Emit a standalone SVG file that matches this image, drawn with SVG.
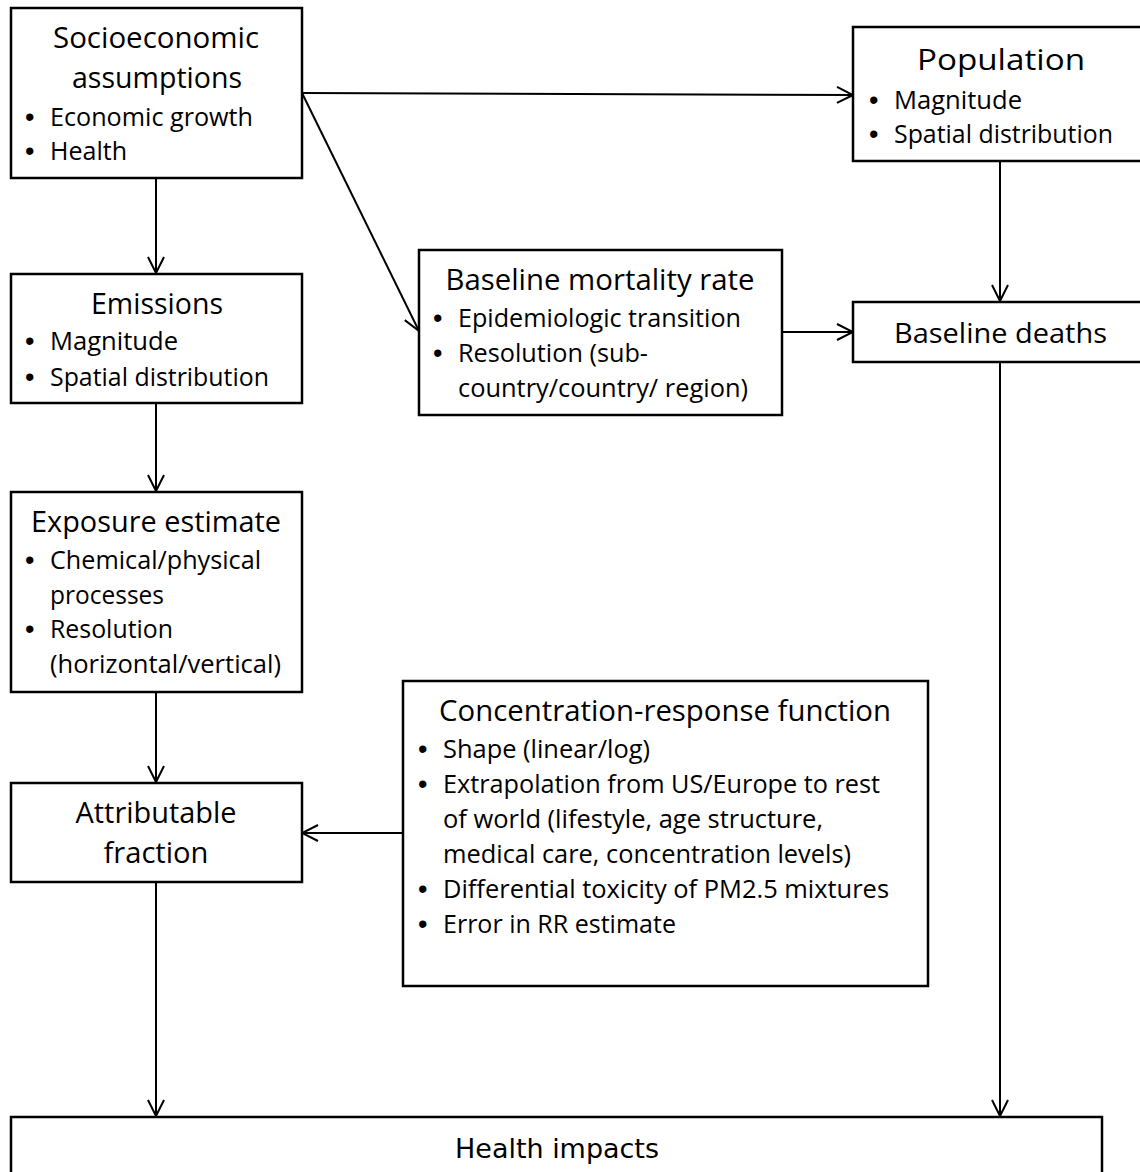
<svg xmlns="http://www.w3.org/2000/svg" width="1140" height="1172" viewBox="0 0 1140 1172">
<style>
.box{fill:#fff;stroke:#000;stroke-width:2.5}
.t{font-family:"Open Sans","Liberation Sans",sans-serif;font-size:29px;fill:#000}
.b{font-family:"Open Sans","Liberation Sans",sans-serif;font-size:25px;fill:#000}
.d{font-family:"Liberation Sans",sans-serif;font-size:27px;fill:#000}
.c{text-anchor:middle}
.h{font-family:"DejaVu Sans Condensed","DejaVu Sans",sans-serif;font-size:27px;fill:#000}
.ln{fill:none;stroke:#000;stroke-width:2}
</style>
<defs>
<marker id="ah" viewBox="0 0 20 20" refX="18" refY="10" markerWidth="20" markerHeight="20" markerUnits="userSpaceOnUse" orient="auto">
<path d="M2,2 L18,10 L2,18" fill="none" stroke="#000" stroke-width="2"/>
</marker>
</defs>
<g id="connectors">
<line class="ln" x1="302" y1="93" x2="853" y2="95" marker-end="url(#ah)"/>
<line class="ln" x1="302" y1="93" x2="419" y2="331" marker-end="url(#ah)"/>
<line class="ln" x1="156" y1="178" x2="156" y2="273" marker-end="url(#ah)"/>
<line class="ln" x1="156" y1="403" x2="156" y2="491" marker-end="url(#ah)"/>
<line class="ln" x1="156" y1="692" x2="156" y2="782" marker-end="url(#ah)"/>
<line class="ln" x1="403" y1="833" x2="302" y2="833" marker-end="url(#ah)"/>
<line class="ln" x1="156" y1="882" x2="156" y2="1116" marker-end="url(#ah)"/>
<line class="ln" x1="1000" y1="161" x2="1000" y2="301" marker-end="url(#ah)"/>
<line class="ln" x1="782" y1="332" x2="853" y2="332" marker-end="url(#ah)"/>
<line class="ln" x1="1000" y1="362" x2="1000" y2="1116" marker-end="url(#ah)"/>
</g>
<g id="socioeconomic">
<rect class="box" x="11" y="8" width="291" height="170"/>
<text class="t c" x="156" y="48" textLength="206" lengthAdjust="spacingAndGlyphs">Socioeconomic</text>
<text class="t c" x="157" y="88" textLength="170" lengthAdjust="spacingAndGlyphs">assumptions</text>
<text class="d" x="25" y="126">•</text><text class="b" x="50" y="126" textLength="203" lengthAdjust="spacingAndGlyphs">Economic growth</text>
<text class="d" x="25" y="160">•</text><text class="b" x="50" y="160" textLength="77" lengthAdjust="spacingAndGlyphs">Health</text>
</g>
<g id="emissions">
<rect class="box" x="11" y="274" width="291" height="129"/>
<text class="t c" x="157" y="314" textLength="132" lengthAdjust="spacingAndGlyphs">Emissions</text>
<text class="d" x="25" y="350">•</text><text class="b" x="50" y="350" textLength="128" lengthAdjust="spacingAndGlyphs">Magnitude</text>
<text class="d" x="25" y="386">•</text><text class="b" x="50" y="386" textLength="219" lengthAdjust="spacingAndGlyphs">Spatial distribution</text>
</g>
<g id="exposure">
<rect class="box" x="11" y="492" width="291" height="200"/>
<text class="t c" x="156" y="532" textLength="250" lengthAdjust="spacingAndGlyphs">Exposure estimate</text>
<text class="d" x="25" y="569">•</text><text class="b" x="50" y="569" textLength="211" lengthAdjust="spacingAndGlyphs">Chemical/physical</text>
<text class="b" x="50" y="604" textLength="114" lengthAdjust="spacingAndGlyphs">processes</text>
<text class="d" x="25" y="638">•</text><text class="b" x="50" y="638" textLength="123" lengthAdjust="spacingAndGlyphs">Resolution</text>
<text class="b" x="50" y="673" textLength="231" lengthAdjust="spacingAndGlyphs">(horizontal/vertical)</text>
</g>
<g id="attributable">
<rect class="box" x="11" y="783" width="291" height="99"/>
<text class="t c" x="156" y="823" textLength="161" lengthAdjust="spacingAndGlyphs">Attributable</text>
<text class="t c" x="156" y="863" textLength="105" lengthAdjust="spacingAndGlyphs">fraction</text>
</g>
<g id="baseline-mortality">
<rect class="box" x="419" y="250" width="363" height="165"/>
<text class="t c" x="600" y="290" textLength="309" lengthAdjust="spacingAndGlyphs">Baseline mortality rate</text>
<text class="d" x="433" y="327">•</text><text class="b" x="458" y="327" textLength="283" lengthAdjust="spacingAndGlyphs">Epidemiologic transition</text>
<text class="d" x="433" y="362">•</text><text class="b" x="458" y="362" textLength="190" lengthAdjust="spacingAndGlyphs">Resolution (sub-</text>
<text class="b" x="458" y="397" textLength="290" lengthAdjust="spacingAndGlyphs">country/country/ region)</text>
</g>
<g id="population">
<rect class="box" x="853" y="27" width="300" height="134"/>
<text class="t c" x="1001" y="70" textLength="168" lengthAdjust="spacingAndGlyphs">Population</text>
<text class="d" x="869" y="109">•</text><text class="b" x="894" y="109" textLength="128" lengthAdjust="spacingAndGlyphs">Magnitude</text>
<text class="d" x="869" y="143">•</text><text class="b" x="894" y="143" textLength="219" lengthAdjust="spacingAndGlyphs">Spatial distribution</text>
</g>
<g id="baseline-deaths">
<rect class="box" x="853" y="302" width="300" height="60"/>
<text class="b" x="894" y="343" textLength="213" lengthAdjust="spacingAndGlyphs" style="font-size:27px">Baseline deaths</text>
</g>
<g id="crf">
<rect class="box" x="403" y="681" width="525" height="305"/>
<text class="t c" x="665" y="721" textLength="452" lengthAdjust="spacingAndGlyphs">Concentration-response function</text>
<text class="d" x="418" y="758">•</text><text class="b" x="443" y="758" textLength="207" lengthAdjust="spacingAndGlyphs">Shape (linear/log)</text>
<text class="d" x="418" y="793">•</text><text class="b" x="443" y="793" textLength="437" lengthAdjust="spacingAndGlyphs">Extrapolation from US/Europe to rest</text>
<text class="b" x="443" y="828" textLength="380" lengthAdjust="spacingAndGlyphs">of world (lifestyle, age structure,</text>
<text class="b" x="443" y="863" textLength="408" lengthAdjust="spacingAndGlyphs">medical care, concentration levels)</text>
<text class="d" x="418" y="898">•</text><text class="b" x="443" y="898" textLength="446" lengthAdjust="spacingAndGlyphs">Differential toxicity of PM2.5 mixtures</text>
<text class="d" x="418" y="933">•</text><text class="b" x="443" y="933" textLength="233" lengthAdjust="spacingAndGlyphs">Error in RR estimate</text>
</g>
<g id="health-impacts">
<rect class="box" x="11" y="1117" width="1091" height="80"/>
<text class="h c" x="557" y="1158" textLength="204" lengthAdjust="spacingAndGlyphs">Health impacts</text>
</g>
</svg>
